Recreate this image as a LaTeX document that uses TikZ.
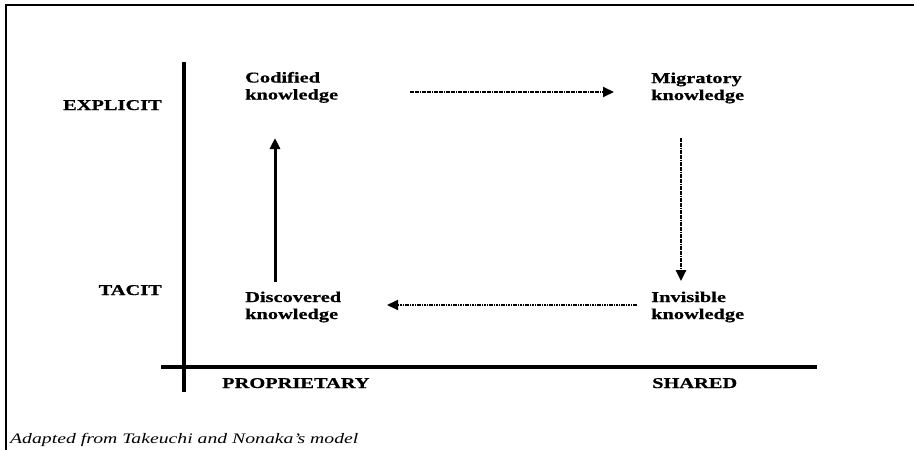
\documentclass[tikz,border=0pt]{standalone}
\usepackage{fontspec}
\setmainfont[FakeStretch=1.36, BoldFeatures={FakeBold=0.6}]{Liberation Serif}
\usetikzlibrary{arrows.meta}
\tikzset{
  lab/.style={font=\fontsize{15}{17}\selectfont\bfseries, inner sep=0pt, align=left},
  captext/.style={font=\fontsize{14.5}{15}\selectfont\itshape, inner sep=0pt},
  axisline/.style={line width=3.5pt},
  dotarrow/.style={line width=2pt, dash pattern=on 1.7pt off 0.7pt, -{Triangle[length=11pt,width=10pt]}},
  solidarrow/.style={line width=3pt, -{Triangle[length=11pt,width=10pt]}},
  frameline/.style={line width=2pt}
}
\begin{document}
\begin{tikzpicture}[x=1pt,y=-1pt]
\useasboundingbox (0,0) rectangle (914,450);
% frame
\draw[frameline] (6,450) -- (6,5) -- (914,5);
% axes
\coordinate (vtop) at (184,62);
\coordinate (vbot) at (184,392);
\coordinate (hleft) at (161,367);
\coordinate (hright) at (817,367);
\draw[axisline] (vtop) -- (vbot);
\draw[axisline] (hleft) -- (hright);
% axis labels
\node[lab, anchor=base east] (explicit) at (162,110) {EXPLICIT};
\node[lab, anchor=base east] (tacit) at (162,295) {TACIT};
\node[lab, anchor=base west] (prop) at (222,388) {PROPRIETARY};
\node[lab, anchor=base west] (shared) at (652,388) {SHARED};
% knowledge labels (base anchor = baseline of last line)
\node[lab, anchor=base west] (codified) at (245,99.5) {Codified\\knowledge};
\node[lab, anchor=base west] (migratory) at (651,100) {Migratory\\knowledge};
\node[lab, anchor=base west] (discovered) at (245,319) {Discovered\\knowledge};
\node[lab, anchor=base west] (invisible) at (651,319) {Invisible\\knowledge};
% arrows
\coordinate (a1s) at (410,92);
\coordinate (a1e) at (614,92);
\coordinate (a2s) at (681,138);
\coordinate (a2e) at (681,281);
\coordinate (a3s) at (637,305);
\coordinate (a3e) at (387,305);
\coordinate (a4s) at (275,282);
\coordinate (a4e) at (275,138);
\draw[dotarrow] (a1s) -- (a1e);
\draw[dotarrow, line width=2.5pt] (a2s) -- (a2e);
\draw[dotarrow] (a3s) -- (a3e);
\draw[solidarrow] (a4s) -- (a4e);
% caption
\node[captext, anchor=base west] (caption) at (10,443) {Adapted from Takeuchi and Nonaka’s model};
\end{tikzpicture}
\end{document}
